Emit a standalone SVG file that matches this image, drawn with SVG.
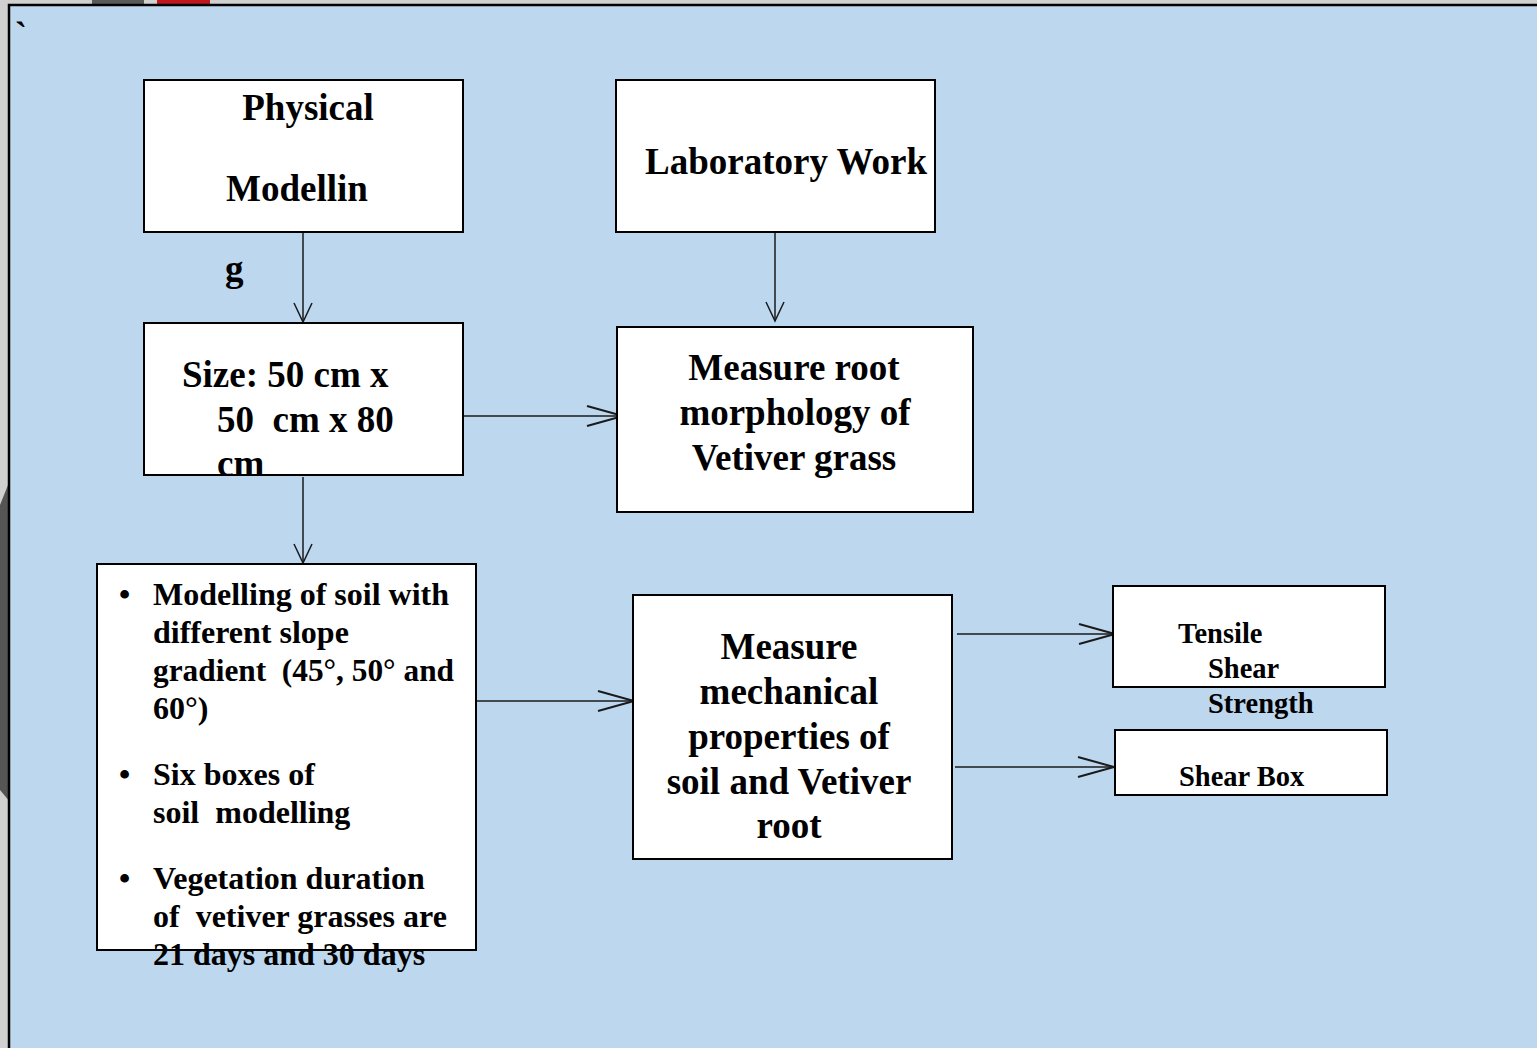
<svg xmlns="http://www.w3.org/2000/svg" width="1537" height="1048" viewBox="0 0 1537 1048">
<style>
.box{fill:#fff;stroke:#000;stroke-width:2}
.t{font-family:"Liberation Serif","Times New Roman",serif;font-weight:bold;fill:#000}
.big{font-size:37px}
.mid{font-size:32px}
.sm{font-size:28.5px}
.c{text-anchor:middle}
.ln{stroke:#1a1a1a;stroke-width:1.5;fill:none}
</style>
<defs>
<marker id="ah" markerUnits="userSpaceOnUse" markerWidth="40" markerHeight="24" refX="36" refY="10" orient="auto" overflow="visible">
<path d="M0,0 L36,10 L0,20" fill="none" stroke="#1a1a1a" stroke-width="2"/>
</marker>
<marker id="av" markerUnits="userSpaceOnUse" markerWidth="24" markerHeight="24" refX="19" refY="9" orient="auto" overflow="visible">
<path d="M0,0 L19,9 L0,18" fill="none" stroke="#1a1a1a" stroke-width="1.5"/>
</marker>
</defs>
<rect width="1537" height="1048" fill="#d0d0d0"/>
<rect x="92" y="0" width="52" height="6" fill="#5a5a5a"/>
<rect x="157" y="0" width="53" height="6" fill="#c0171c"/>
<path d="M0,505 L10,480 L10,802 L0,790 Z" fill="#555"/>
<rect x="9" y="5" width="1540" height="1050" fill="#bdd7ee" stroke="#000" stroke-width="2.5"/>
<text class="t" x="15" y="47" font-size="36">`</text>

<g id="connectors">
<line class="ln" x1="303" y1="233" x2="303" y2="322" marker-end="url(#av)"/>
<line class="ln" x1="775" y1="233" x2="775" y2="321" marker-end="url(#av)"/>
<line class="ln" x1="464" y1="416" x2="623" y2="416" marker-end="url(#ah)"/>
<line class="ln" x1="303" y1="477" x2="303" y2="563" marker-end="url(#av)"/>
<line class="ln" x1="477" y1="701" x2="634" y2="701" marker-end="url(#ah)"/>
<line class="ln" x1="957" y1="634" x2="1115" y2="634" marker-end="url(#ah)"/>
<line class="ln" x1="955" y1="767" x2="1114" y2="767" marker-end="url(#ah)"/>
</g>

<g id="physical">
<rect class="box" x="144" y="80" width="319" height="152"/>
<text class="t big c" x="308" y="120">Physical</text>
<text class="t big c" x="297" y="201">Modellin</text>
<text class="t big" x="225" y="281">g</text>
</g>

<g id="lab">
<rect class="box" x="616" y="80" width="319" height="152"/>
<text class="t big" x="645" y="174">Laboratory Work</text>
</g>

<g id="size">
<rect class="box" x="144" y="323" width="319" height="152"/>
<text class="t big" x="182" y="387">Size: 50 cm x</text>
<text class="t big" x="217" y="432" xml:space="preserve">50  cm x 80</text>
<text class="t big" x="217" y="476">cm</text>
</g>

<g id="root">
<rect class="box" x="617" y="327" width="356" height="185"/>
<text class="t big c" x="794" y="380">Measure root</text>
<text class="t big c" x="795" y="425">morphology of</text>
<text class="t big c" x="794" y="470">Vetiver grass</text>
</g>

<g id="modelling">
<rect class="box" x="97" y="564" width="379" height="386"/>
<g class="t mid">
<text x="119" y="605">•</text>
<text x="153" y="605">Modelling of soil with</text>
<text x="153" y="643">different slope</text>
<text x="153" y="681" xml:space="preserve" textLength="301" lengthAdjust="spacingAndGlyphs">gradient  (45°, 50° and</text>
<text x="153" y="719">60°)</text>
<text x="119" y="785">•</text>
<text x="153" y="785">Six boxes of</text>
<text x="153" y="823" xml:space="preserve">soil  modelling</text>
<text x="119" y="889">•</text>
<text x="153" y="889">Vegetation duration</text>
<text x="153" y="927" xml:space="preserve">of  vetiver grasses are</text>
<text x="153" y="965">21 days and 30 days</text>
</g>
</g>

<g id="mechanical">
<rect class="box" x="633" y="595" width="319" height="264"/>
<text class="t big c" x="789" y="659">Measure</text>
<text class="t big c" x="789" y="704">mechanical</text>
<text class="t big c" x="789" y="749">properties of</text>
<text class="t big c" x="789" y="794">soil and Vetiver</text>
<text class="t big c" x="789" y="838">root</text>
</g>

<g id="tensile">
<rect class="box" x="1113" y="586" width="272" height="101"/>
<text class="t sm" x="1178" y="643">Tensile</text>
<text class="t sm" x="1208" y="678">Shear</text>
<text class="t sm" x="1208" y="713">Strength</text>
</g>

<g id="shearbox">
<rect class="box" x="1115" y="730" width="272" height="65"/>
<text class="t sm" x="1179" y="786">Shear Box</text>
</g>
</svg>
